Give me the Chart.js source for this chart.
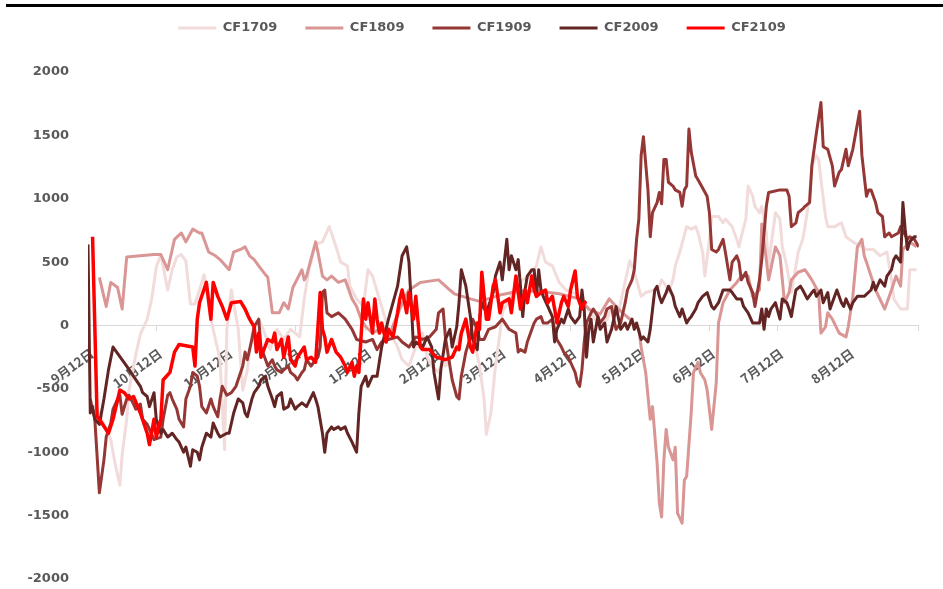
<!DOCTYPE html>
<html>
<head>
<meta charset="utf-8">
<script src="https://cdn.jsdelivr.net/npm/chart.js@4.4.0/dist/chart.umd.min.js"></script>
<style>
  html, body { margin: 0; padding: 0; background: #ffffff; }
  #wrap { position: relative; width: 943px; height: 589px; }
</style>
</head>
<body>
<div id="wrap"><canvas id="c" width="943" height="589"></canvas></div>
<script>
// Day offsets from 9月12日 where each month tick sits, and their labels
const tickDays = [0, 30, 61, 91, 122, 153, 181, 212, 242, 273, 303, 334, 365];
const tickLabels = ['9月12日', '10月12日', '11月12日', '12月12日', '1月12日', '2月12日',
  '3月12日', '4月12日', '5月12日', '6月12日', '7月12日', '8月12日', ''];

const seriesNames = ['CF1709', 'CF1809', 'CF1909', 'CF2009', 'CF2109'];

// [day offset, spread value]
const cf1709 = [[3,-620],[5,-700],[7,-780],[10,-900],[12,-1100],[14,-1260],[15,-1020],[17,-740],[18,-510],[21,-230],
  [23,-70],[26,50],[28,210],[30,460],[32,560],[35,280],[37,440],[39,540],[41,560],[43,510],
  [45,170],[47,170],[49,280],[51,400],[54,50],[56,-110],[58,-270],[60,-980],[61,-30],[63,280],
  [66,-30],[68,-510],[70,-350],[72,-70],[75,50],[77,-30],[80,-190],[83,-30],[86,-110],[89,-30],
  [93,-90],[95,210],[97,440],[100,640],[103,660],[106,780],[109,620],[111,500],[114,470],[115,310],
  [118,210],[121,150],[123,440],[125,390],[128,210],[129,150],[132,-30],[136,-170],[138,-270],[141,-320],
  [144,-170],[147,-60],[149,-250],[151,-320],[154,-370],[156,-270],[157,-320],[162,-190],[163,-90],[166,-10],
  [169,-60],[172,-320],[174,-580],[175,-860],[177,-690],[179,-320],[181,-60],[182,100],[185,210],[188,310],
  [191,360],[194,390],[197,470],[199,620],[201,500],[204,470],[207,340],[210,280],[213,260],[216,230],
  [219,150],[221,100],[225,-10],[228,50],[230,150],[233,100],[238,510],[239,470],[241,360],[243,230],
  [245,260],[249,280],[251,310],[252,360],[254,310],[255,260],[257,360],[258,470],[260,580],[263,780],
  [265,760],[267,780],[268,730],[270,580],[271,390],[273,680],[274,860],[277,860],[279,810],[280,840],
  [283,780],[285,680],[286,620],[287,700],[289,840],[290,1100],[292,1020],[293,940],[295,890],[296,940],
  [298,730],[299,470],[300,620],[302,890],[304,840],[305,620],[307,470],[308,360],[309,260],[311,470],
  [312,580],[314,680],[315,780],[317,1020],[318,1260],[320,1340],[321,1310],[322,1150],[324,860],[325,780],
  [328,780],[331,810],[333,700],[336,660],[340,620],[342,600],[345,600],[348,550],[351,580],[353,360],
  [354,210],[357,130],[360,130],[361,440],[364,440]];

const cf1809 = [[5,380],[8,150],[10,340],[13,300],[15,130],[17,540],[23,550],[29,560],[32,560],[35,440],
  [38,680],[41,730],[43,660],[46,760],[49,730],[50,730],[53,580],[56,550],[58,520],[62,440],
  [64,580],[67,600],[69,620],[71,550],[73,520],[75,470],[78,400],[79,380],[81,100],[84,100],
  [86,180],[88,130],[90,300],[94,440],[95,360],[96,390],[100,660],[101,580],[103,390],[105,360],
  [107,390],[110,340],[113,360],[114,310],[116,210],[118,150],[120,50],[122,-10],[125,-60],[128,-30],
  [132,-90],[137,130],[139,210],[141,280],[146,340],[150,350],[154,360],[159,280],[161,250],[168,210],
  [172,190],[181,240],[189,270],[198,270],[207,250],[216,210],[220,130],[225,90],[229,210],[233,130],
  [238,50],[242,-30],[243,-170],[245,-370],[247,-740],[248,-640],[250,-1080],[251,-1400],[252,-1510],[253,-1060],
  [254,-820],[255,-960],[257,-1060],[258,-960],[259,-1480],[261,-1560],[262,-1220],[263,-1190],[265,-690],[266,-370],
  [268,-290],[269,-370],[271,-430],[272,-510],[274,-820],[276,-450],[277,20],[279,180],[282,280],[285,340],
  [287,390],[290,390],[292,230],[295,280],[296,800],[298,520],[299,360],[302,620],[304,550],[306,180],
  [308,260],[309,360],[312,420],[315,440],[318,360],[321,260],[322,-60],[324,-10],[325,100],[327,50],
  [330,-60],[333,-90],[334,-10],[336,230],[338,620],[340,680],[341,550],[342,500],[344,390],[346,280],
  [350,130],[353,280],[355,390],[357,310],[358,600],[361,660],[364,620]];

const cf1909 = [[1,-580],[3,-740],[5,-1320],[7,-1060],[8,-880],[10,-770],[11,-660],[13,-580],[14,-550],[15,-700],
  [17,-580],[18,-550],[20,-620],[21,-660],[23,-620],[24,-740],[26,-780],[27,-820],[29,-900],[32,-880],
  [33,-740],[35,-550],[36,-530],[37,-580],[39,-660],[40,-740],[42,-800],[43,-580],[45,-480],[46,-370],
  [48,-400],[49,-480],[50,-640],[52,-690],[54,-580],[55,-640],[57,-720],[58,-580],[59,-480],[61,-550],
  [63,-530],[65,-480],[68,-320],[69,-210],[70,-270],[72,-110],[73,-10],[75,50],[76,-170],[78,-270],
  [79,-320],[81,-270],[82,-320],[83,-350],[85,-370],[86,-350],[88,-320],[89,-370],[91,-400],[92,-430],
  [94,-370],[95,-350],[96,-270],[98,-320],[100,-270],[101,-250],[102,-170],[103,260],[104,280],[105,100],
  [107,70],[110,100],[113,50],[116,-30],[118,-110],[122,-130],[125,-110],[127,-190],[129,-130],[132,-110],
  [136,-90],[138,-130],[141,-170],[144,-90],[147,-110],[150,-90],[153,-30],[154,100],[156,130],[157,-90],
  [159,-320],[160,-430],[162,-560],[163,-580],[164,-400],[166,-210],[168,-90],[169,50],[171,-30],[172,-110],
  [174,-110],[176,-30],[179,-10],[182,50],[185,-30],[188,-60],[189,-210],[190,-190],[192,-210],[193,-130],
  [195,-30],[196,20],[197,50],[199,70],[200,20],[202,20],[204,50],[205,-30],[206,-110],[208,-170],
  [209,-210],[211,-250],[212,-290],[214,-370],[215,-450],[216,-480],[217,-350],[218,-130],[219,20],[221,100],
  [222,130],[224,70],[225,20],[227,70],[228,130],[230,150],[231,50],[232,-30],[234,20],[236,180],
  [237,280],[239,360],[240,440],[241,680],[242,840],[243,1340],[244,1490],[246,1070],[247,700],[248,890],
  [250,970],[251,1050],[252,960],[253,1310],[254,1310],[255,1130],[257,1100],[258,1070],[260,1050],[261,940],
  [262,1070],[263,1100],[264,1550],[265,1370],[267,1180],[268,1150],[272,1020],[273,890],[274,600],[276,580],
  [277,600],[279,680],[280,580],[282,360],[283,500],[285,550],[286,500],[287,360],[289,420],[290,340],
  [292,260],[293,150],[295,360],[296,520],[298,940],[299,1050],[304,1070],[307,1070],[308,1020],[309,780],
  [311,810],[312,890],[314,920],[315,940],[317,970],[318,1260],[320,1520],[322,1760],[323,1410],[325,1390],
  [327,1260],[328,1100],[330,1210],[331,1230],[333,1390],[334,1260],[336,1390],[339,1690],[340,1340],[342,1020],
  [343,1070],[344,1070],[346,970],[347,890],[349,860],[350,700],[352,730],[353,700],[356,730],[357,780],
  [360,680],[361,700],[363,680],[365,620]];

const cf2009 = [[0,640],[1,-690],[2,-640],[3,-740],[5,-780],[7,-580],[9,-350],[11,-170],[17,-320],[23,-480],
  [24,-530],[26,-560],[27,-640],[29,-530],[30,-740],[32,-850],[33,-820],[35,-880],[37,-850],[39,-900],
  [40,-920],[42,-1000],[43,-960],[45,-1110],[46,-980],[48,-1000],[49,-1060],[50,-960],[52,-850],[54,-880],
  [55,-770],[57,-850],[58,-880],[61,-850],[62,-850],[64,-690],[66,-580],[68,-610],[69,-690],[70,-720],
  [72,-580],[73,-530],[75,-480],[76,-430],[78,-400],[79,-480],[81,-580],[82,-640],[83,-560],[85,-530],
  [86,-660],[88,-640],[89,-580],[91,-660],[92,-640],[94,-610],[96,-640],[99,-530],[100,-580],[101,-640],
  [103,-850],[104,-1000],[105,-850],[107,-800],[108,-820],[110,-800],[111,-820],[113,-800],[114,-850],[116,-920],
  [118,-1000],[119,-690],[120,-480],[122,-400],[123,-480],[125,-400],[127,-400],[129,-170],[132,50],[136,310],
  [138,550],[140,620],[141,500],[142,180],[143,-170],[144,-130],[147,-170],[149,-90],[151,-170],[152,-370],
  [154,-580],[155,-350],[157,-110],[159,-30],[160,-170],[162,-10],[163,180],[164,440],[166,310],[168,70],
  [169,-110],[171,-190],[172,50],[173,180],[175,100],[178,260],[179,390],[181,500],[182,360],[184,680],
  [185,440],[186,550],[188,440],[189,520],[190,310],[191,70],[192,280],[193,390],[195,440],[196,440],
  [197,230],[198,440],[199,280],[200,230],[202,150],[204,70],[205,-130],[206,-30],[208,50],[209,20],
  [211,130],[212,70],[214,20],[216,70],[217,280],[218,130],[219,-250],[220,-30],[221,50],[222,-130],
  [224,70],[225,-30],[227,20],[228,-130],[230,-30],[231,50],[232,150],[234,-30],[236,20],[237,-30],
  [239,50],[240,-30],[241,20],[243,-110],[244,-90],[246,-130],[247,-30],[249,280],[250,310],[251,230],
  [252,180],[254,260],[255,310],[257,230],[258,150],[260,70],[261,130],[263,20],[264,50],[265,70],
  [267,130],[268,180],[270,230],[272,260],[274,150],[275,130],[277,180],[279,280],[282,280],[283,260],
  [285,210],[287,210],[288,150],[290,100],[292,20],[295,20],[296,130],[297,-30],[298,130],[299,70],
  [300,130],[302,180],[304,50],[305,210],[307,180],[308,130],[309,70],[310,180],[311,280],[313,310],
  [314,280],[316,210],[318,260],[319,280],[320,230],[322,280],[323,180],[325,260],[326,130],[328,230],
  [329,280],[331,180],[332,150],[333,210],[335,130],[336,180],[338,230],[341,230],[344,280],[345,340],
  [346,280],[348,360],[350,310],[351,390],[353,440],[354,520],[355,550],[357,500],[358,970],[359,760],
  [360,600],[361,660],[363,700],[364,700]];

const cf2109 = [[2,700],[4,-720],[5,-740],[9,-850],[11,-740],[14,-510],[16,-530],[18,-580],[20,-560],[23,-690],
  [26,-850],[27,-940],[29,-740],[30,-880],[32,-740],[33,-430],[36,-370],[38,-210],[40,-150],[46,-170],
  [47,-320],[48,50],[49,180],[52,340],[54,50],[55,340],[57,230],[59,150],[61,50],[63,180],
  [67,190],[69,130],[71,50],[73,-10],[74,-210],[75,-60],[76,-250],[79,-110],[81,-130],[82,-60],
  [83,-190],[85,-110],[86,-250],[88,-90],[89,-270],[91,-320],[92,-250],[95,-170],[96,-270],[98,-250],
  [100,-290],[102,260],[103,-30],[104,-90],[105,-210],[107,-110],[109,-210],[111,-250],[113,-320],[114,-370],
  [116,-290],[117,-400],[118,-320],[119,-370],[121,210],[122,50],[123,180],[125,-60],[126,210],[127,50],
  [128,-60],[129,20],[131,-130],[132,-30],[134,-90],[136,100],[137,210],[138,280],[140,100],[141,260],
  [143,50],[144,230],[146,-170],[147,-190],[150,-190],[153,-250],[157,-270],[160,-250],[162,-170],[163,-190],
  [164,-60],[166,50],[168,-170],[169,-210],[171,20],[172,-30],[173,420],[175,50],[176,50],[178,310],
  [179,360],[181,100],[182,180],[185,210],[186,100],[188,390],[190,130],[192,280],[193,180],[195,390],
  [196,280],[197,230],[199,260],[201,280],[202,180],[204,230],[205,130],[206,20],[208,180],[209,230],
  [211,150],[212,280],[214,430],[215,230],[217,130],[218,180],[219,190]];

const seriesData = [cf1709, cf1809, cf1909, cf2009, cf2109];
const seriesColors = ['#f2dcdb', '#d99694', '#953735', '#632523', '#ff0000'];
const seriesWidths = [3, 3, 3, 3, 3.5];

const datasets = seriesNames.map((name, i) => ({
  label: name,
  data: seriesData[i].map(([d, v]) => ({ x: d, y: v })),
  borderColor: seriesColors[i],
  backgroundColor: seriesColors[i],
  borderWidth: seriesWidths[i],
  pointRadius: 0,
  pointHoverRadius: 0,
  tension: 0,
  fill: false,
  borderJoinStyle: 'round',
  order: seriesNames.length - i   // later contracts are painted on top
}));

// Legend block: fixed height so the plot starts below it, nudged right of centre
const legendPlacement = {
  id: 'legendPlacement',
  beforeInit(chart) {
    const legend = chart.legend;
    if (!legend) return;
    const fit = legend.fit;
    legend.fit = function () {
      fit.call(this);
      this.height = 78.5;
    };
  },
  afterLayout(chart) {
    const legend = chart.legend;
    if (!legend) return;
    legend.left += 22;
    legend.right += 22;
  }
};

// White page plus a thin dark rule along the top edge of the figure
const topRule = {
  id: 'topRule',
  beforeDraw(chart) {
    const ctx = chart.ctx;
    ctx.save();
    ctx.fillStyle = '#ffffff';
    ctx.fillRect(0, 0, chart.width, chart.height);
    ctx.fillStyle = '#000000';
    ctx.fillRect(6, 4, chart.width - 6, 3);
    ctx.restore();
  }
};

new Chart(document.getElementById('c'), {
  type: 'line',
  data: { datasets },
  plugins: [legendPlacement, topRule],
  options: {
    responsive: false,
    devicePixelRatio: 1,
    animation: false,
    layout: { autoPadding: false, padding: { left: 0, right: 23, top: -6.5, bottom: 10 } },
    plugins: {
      tooltip: { enabled: false },
      legend: {
        position: 'top',
        labels: {
          boxWidth: 38,
          boxHeight: 3,
          padding: 28,
          color: '#595959',
          font: { family: "'DejaVu Sans'", size: 13, weight: 'bold' },
          sort: (a, b) => a.datasetIndex - b.datasetIndex,
          generateLabels(chart) {
            const items = Chart.defaults.plugins.legend.labels.generateLabels(chart);
            items.forEach(it => { it.fillStyle = it.strokeStyle; it.lineWidth = 0; });
            return items;
          }
        }
      }
    },
    scales: {
      x: {
        type: 'linear',
        min: 0,
        max: 365,
        position: { y: 0 },
        afterBuildTicks(scale) { scale.ticks = tickDays.map(v => ({ value: v })); },
        afterFit(scale) { scale.height = 0; },
        ticks: {
          autoSkip: false,
          minRotation: 36,
          maxRotation: 36,
          padding: 15,
          labelOffset: 4,
          color: '#595959',
          font: { family: "'Noto Sans CJK SC'", size: 13, weight: 'bold' },
          callback(value) {
            const i = tickDays.indexOf(value);
            return i >= 0 ? tickLabels[i] : '';
          }
        },
        grid: { display: true, drawOnChartArea: false, drawTicks: true, tickLength: 5, color: '#d9d9d9' },
        border: { display: true, color: '#d9d9d9', width: 1 }
      },
      y: {
        min: -2000,
        max: 2000,
        afterFit(scale) {
          scale.width = 88;
          scale.paddingTop = 0;
          scale.paddingBottom = 0;
        },
        ticks: {
          stepSize: 500,
          padding: 19,
          color: '#595959',
          font: { family: "'DejaVu Sans'", size: 13, weight: 'bold' },
          callback: (value) => String(value)
        },
        grid: { display: false, drawTicks: false },
        border: { display: false }
      }
    }
  }
});
</script>
</body>
</html>
